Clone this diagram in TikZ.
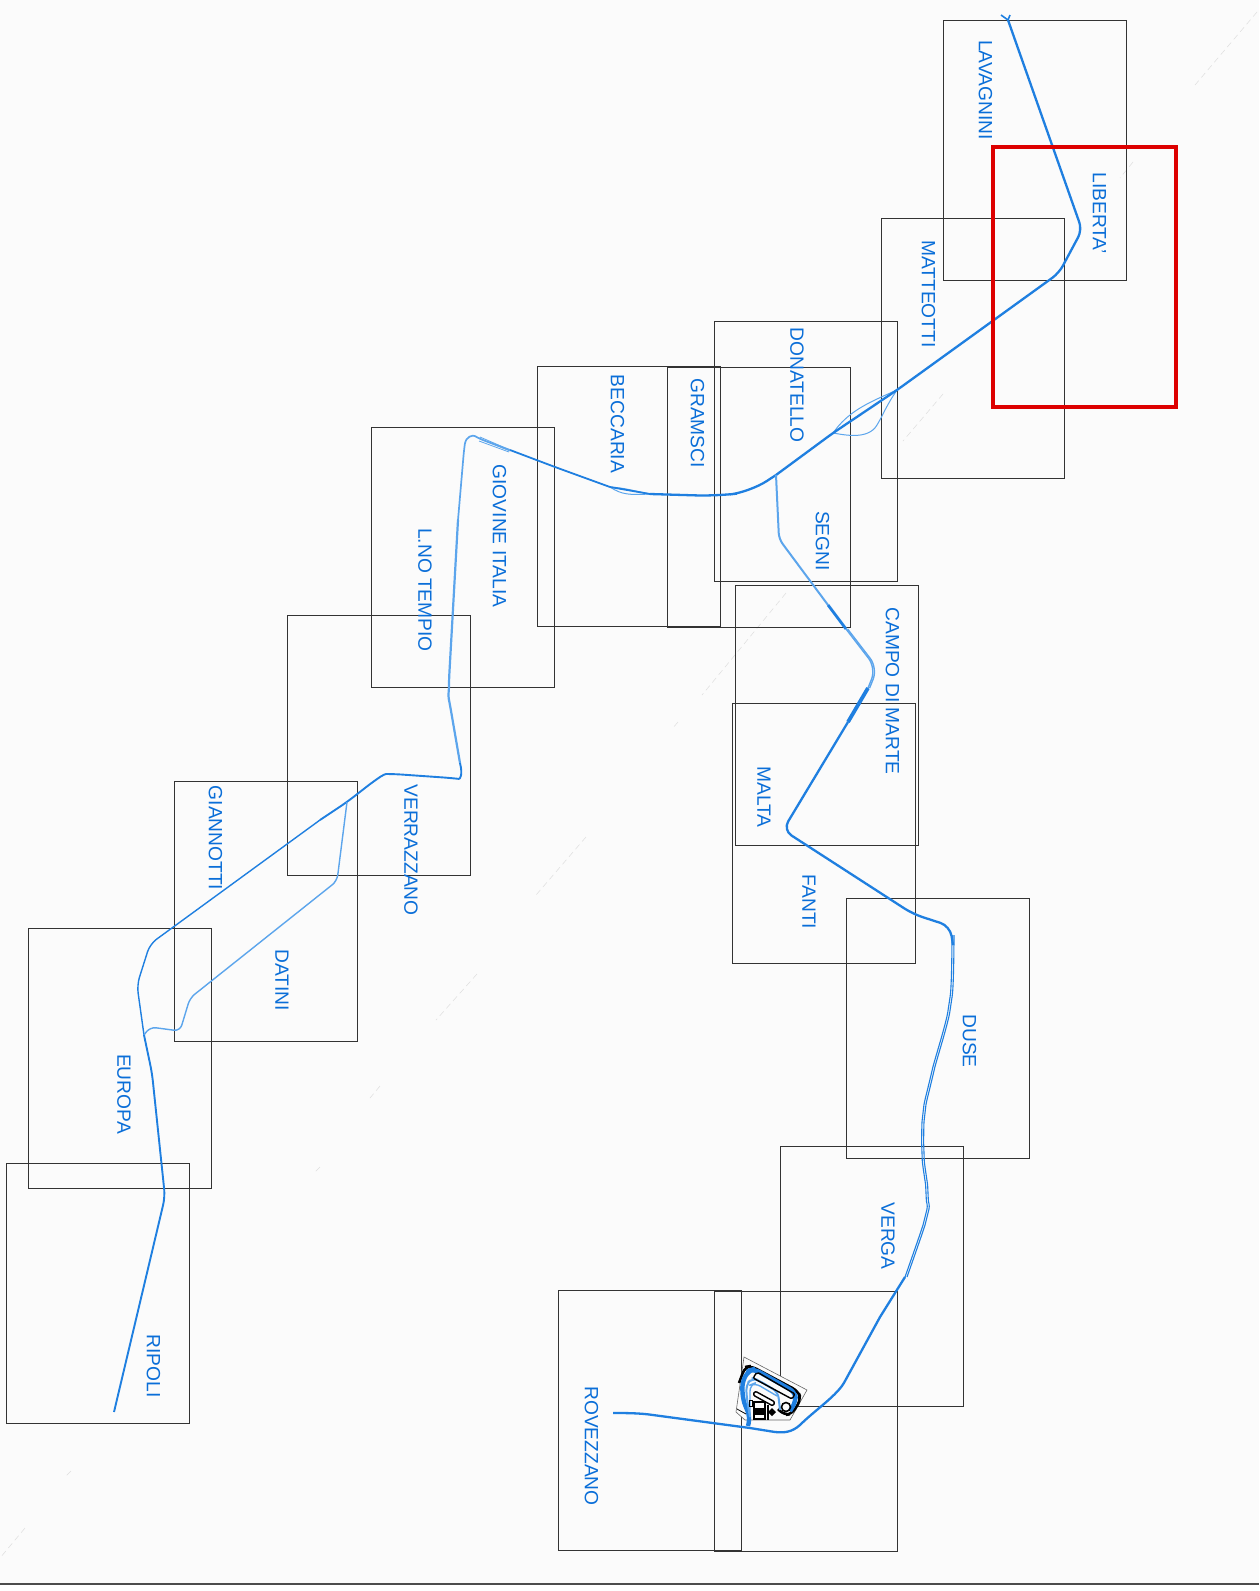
\documentclass[tikz,border=0pt]{standalone}
\usepackage{fontspec}
\setmainfont{Liberation Sans}
\usetikzlibrary{shapes}
\definecolor{sheetbg}{HTML}{FBFBFB}
\definecolor{trackblue}{HTML}{1F7FE0}
\definecolor{tracklight}{HTML}{5CA5EC}
\definecolor{labelblue}{HTML}{0A6ED8}
\definecolor{markred}{HTML}{DD0000}
\tikzstyle{zone}=[rectangle,draw=black!80,line width=.5pt,minimum width=91.5pt,minimum height=130pt,inner sep=0pt]
\tikzstyle{stop}=[rotate=-90,text=labelblue,inner sep=0pt,font=\fontsize{9.6}{11}\selectfont]
\tikzstyle{track}=[draw=trackblue,line width=1.15pt,line join=round,rounded corners=4pt]
\tikzstyle{spur}=[draw=tracklight,line width=.7pt,line join=round,rounded corners=3pt]
\tikzstyle{faint}=[draw=black!13,line width=.25pt,dash pattern=on 3pt off 2pt]
\begin{document}
\begin{tikzpicture}[x=.5pt,y=-.5pt]
\fill[sheetbg] (0,0) rectangle (1259,1591);
\useasboundingbox (0,0) rectangle (1259,1591);
\fill[white] (0,1584) rectangle (1259,1591);
\draw[black!70,line width=.7pt] (0,1584)--(1259,1584);
\draw[faint](1257,12)--(1195,85);\draw[faint](1133,162)--(1120,178);\draw[faint](943,394)--(903,441);\draw[faint](786,593)--(702,695);
\draw[faint](678,722)--(672,729);\draw[faint](586,837)--(536,895);\draw[faint](477,974)--(436,1020);\draw[faint](380,1086)--(370,1098);
\draw[faint](320,1167)--(315,1172);\draw[faint](71,1471)--(66,1476);\draw[faint](25,1528)--(0,1558);
\node[zone] (lavagniniBox) at (1034.5,150) {};
\node[zone] (matteottiBox) at (972.5,348.5) {};
\node[zone] (donatelloBox) at (805.5,451) {};
\node[zone] (gramsciBox) at (758.5,497) {};
\node[zone] (beccariaBox) at (629,496.5) {};
\node[zone] (giovineBox) at (463,557.5) {};
\node[zone] (verrazzanoBox) at (378.5,745) {};
\node[zone] (giannottiBox) at (265.5,911) {};
\node[zone] (europaBox) at (119.5,1058.5) {};
\node[zone] (ripoliBox) at (98,1293) {};
\node[zone] (campoBox) at (826.5,715) {};
\node[zone] (maltaBox) at (823.5,833) {};
\node[zone] (duseBox) at (937.5,1028.5) {};
\node[zone] (vergaBox) at (872,1276) {};
\node[zone] (rovezzanoBox) at (650,1420) {};
\node[zone] (depotBox) at (806,1421.5) {};
\coordinate (J1) at (897,390);
\coordinate (J2) at (833,433);
\coordinate (J3) at (610,487);
\coordinate (J4) at (650,494);
\coordinate (J5) at (776,475);
\coordinate (J6) at (347,802);
\coordinate (J7) at (144,1035);
\draw[spur,line width=.5pt] (J2) .. controls (848,412) and (865,404) .. (J1);
\draw[spur,line width=.5pt] (J2) .. controls (845,435) and (868,440) .. (880,420) .. controls (885,410) and (890,400) .. (J1);
\draw[spur,line width=.5pt] (J3) .. controls (625,488) and (630,490) .. (J4);
\draw[spur,line width=.5pt] (J3) .. controls (622,495) and (630,495) .. (J4);
\draw[track,rounded corners=0pt,line width=.8pt] (1001,15)--(1008,20)--(1010,15);
\draw[track] (1008,20)--(1082,230)--(1059,273)--(J1)--(J2)--(J5);
\draw[track,rounded corners=10pt] (J5)--(750,492)--(717,496)--(J4);
\draw[track,line width=.9pt] (J3)--(555,467)--(510,450);
\draw[track,line width=.9pt] (J4)--(J3);
\draw[spur,line width=.4pt] (510,450)--(480,437);\draw[spur,line width=.4pt] (510,451)--(480,439);\draw[spur,line width=.4pt] (509,452)--(479,441);
\draw[spur,line width=.85pt] (510,450)--(480,439) .. controls (473,435) and (466,436) .. (464,450)--(458,520);
\draw[spur,line width=1.1pt] (458,520)--(449,680) .. controls (449,690) and (448,695) .. (450,705)--(460,763);
\draw[track,line width=.95pt] (460,763) .. controls (463,775) and (460,779) .. (451,778)--(394,774) .. controls (385,774) and (380,777) .. (374,781)--(J6)--(320,820);
\draw[track,line width=.7pt] (320,820)--(150,944)--(137,985)--(J7);
\draw[spur] (J6)--(337,881)--(190,998)--(180,1031)--(150,1027)--(J7);
\draw[track,line width=.95pt] (J7)--(152,1073)--(165,1197)--(114,1412);
\draw[spur,line width=1pt] (J5)--(779,539)--(828,605);
\draw[track,line width=1.4pt,rounded corners=0pt] (828,605)--(846,629);
\draw[spur,rounded corners=6pt] (846,629)--(876,668)--(868,688);
\draw[spur,rounded corners=6pt,xshift=.8pt] (846,629)--(876,668)--(868,688);
\draw[track,line width=1.9pt,rounded corners=0pt] (868,688)--(848,722);
\draw[track,rounded corners=5pt] (848,722)--(783,830)--(913,914)--(950,926)--(953,945);
\draw[track,line width=.55pt] plot[smooth] coordinates {(952,935) (949,1004) (931,1075) (923,1113) (922,1153) (926,1193) (925,1217) (905,1277)};
\draw[track,line width=.55pt,xshift=1pt] plot[smooth] coordinates {(952,935) (949,1004) (931,1075) (923,1113) (922,1153) (926,1193) (925,1217) (905,1277)};
\draw[track,rounded corners=0pt] (905,1277)--(880,1317)--(845,1381) .. controls (838,1395) and (815,1410) .. (800,1425) .. controls (792,1432) and (785,1433) .. (775,1432)--(750,1428)--(653,1415) .. controls (640,1413) and (625,1413) .. (613,1413);
\filldraw[fill=sheetbg,draw=black!60,line width=.3pt] (744,1357)--(807,1390)--(790,1420)--(745,1420)--(736,1412)--cycle;
\draw[black,line width=1.3pt,rounded corners=3pt] (739,1383)--(745,1367)--(751,1366)--(798,1391)--(801,1399)--(792,1414)--(784,1415)--(778,1409);
\draw[track,line width=2.2pt,rounded corners=3pt] (748,1426)--(750,1417)--(743,1400)--(742,1383)--(748,1371)--(754,1369)--(795,1392)--(796,1401)--(790,1411);
\draw[spur,line width=1pt,rounded corners=3pt] (750,1417)--(747,1400)--(746,1385)--(752,1378)--(758,1380)--(778,1392)--(780,1410);
\draw[spur,rounded corners=3pt] (750,1417)--(750,1398)--(750,1385)--(755,1383)--(777,1396);
\draw[black,line width=.7pt,rounded corners=1pt] (757,1372)--(795,1394)--(792,1399)--(753,1378)--cycle;
\draw[black,line width=.7pt,rounded corners=1pt] (755,1391)--(775,1402)--(773,1406)--(753,1395)--cycle;
\draw[black,line width=.8pt] (786,1407) circle (4.5);
\draw[black,line width=.6pt] (754,1402) rectangle (765,1419);
\fill[black] (754,1408) rectangle (766,1415);
\draw[black,line width=.5pt] (749,1400) rectangle (752,1406);
\fill[black] (772,1408)--(776,1412)--(772,1416)--(768,1412)--cycle;
\draw[black,line width=.7pt] (768,1405)--(768,1420);
\draw[black,line width=.4pt] (737,1409)--(746,1414);
\node[zone,draw=markred,line width=2pt] (libertaBox) at (1084.5,276.5) {};
\node[stop] (lavagnini) at (985.5,90) {LAVAGNINI};
\node[stop] (liberta) at (1099.5,213) {LIBERTA'};
\node[stop] (matteotti) at (928.5,294) {MATTEOTTI};
\node[stop] (donatello) at (797,385) {DONATELLO};
\node[stop] (segni) at (822.5,541) {SEGNI};
\node[stop] (gramsci) at (697.5,423) {GRAMSCI};
\node[stop] (beccaria) at (617.5,424) {BECCARIA};
\node[stop] (giovine) at (499.5,536) {GIOVINE ITALIA};
\node[stop] (tempio) at (425,590) {L.NO TEMPIO};
\node[stop] (verrazzano) at (411,850) {VERRAZZANO};
\node[stop] (giannotti) at (215.5,838) {GIANNOTTI};
\node[stop] (datini) at (282,980) {DATINI};
\node[stop] (europa) at (124,1094) {EUROPA};
\node[stop] (ripoli) at (153.5,1366) {RIPOLI};
\node[stop] (campo) at (892.5,691) {CAMPO DI MARTE};
\node[stop] (malta) at (764,797) {MALTA};
\node[stop] (fanti) at (809,902) {FANTI};
\node[stop] (duse) at (969.5,1041) {DUSE};
\node[stop] (verga) at (888,1236) {VERGA};
\node[stop] (rovezzano) at (591.5,1446) {ROVEZZANO};
\end{tikzpicture}
\end{document}
